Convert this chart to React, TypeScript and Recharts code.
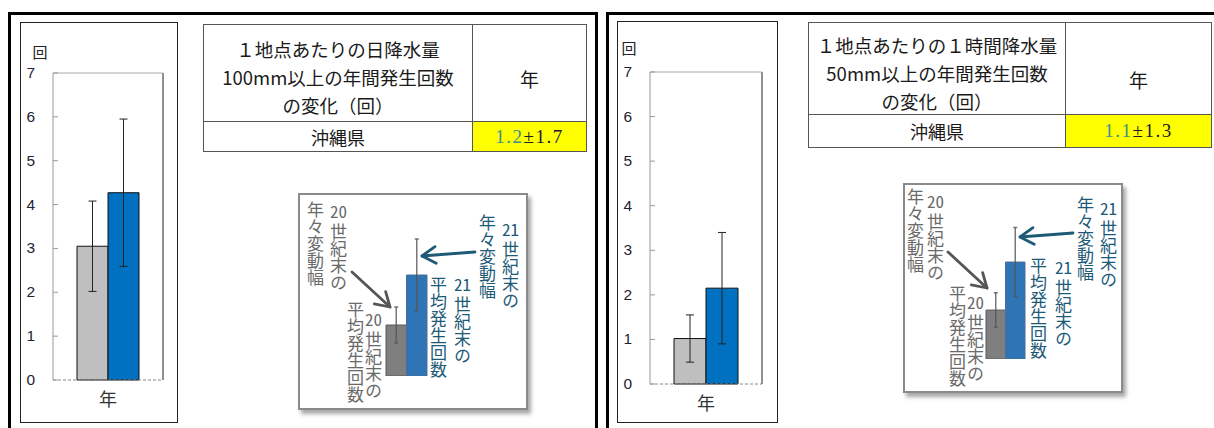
import React from 'react';
import { BarChart, Bar, XAxis, YAxis, ErrorBar, CartesianGrid, ReferenceLine } from 'recharts';

// categories / ticks
const categories = ['年'];
const yTicks = [0, 1, 2, 3, 4, 5, 6, 7];

// 日降水量100mm以上の年間発生回数 (20世紀末 / 21世紀末)
const dailyMean20 = [3.05];
const dailyErr20 = [1.03];
const dailyMean21 = [4.27];
const dailyErr21 = [1.68];

// 1時間降水量50mm以上の年間発生回数
const hourlyMean20 = [1.02];
const hourlyErr20 = [0.53];
const hourlyMean21 = [2.15];
const hourlyErr21 = [1.25];

// 凡例の模式図
const guideMean20 = [1.02];
const guideErr20 = [0.36];
const guideMean21 = [2.02];
const guideErr21 = [0.72];

const dailyTitle = ['１地点あたりの日降水量', '100mm以上の年間発生回数', 'の変化（回）'];
const hourlyTitle = ['１地点あたりの１時間降水量', '50mm以上の年間発生回数', 'の変化（回）'];
const regionName = '沖縄県';
const dailyChange = ['1.2', '±1.7'];
const hourlyChange = ['1.1', '±1.3'];
const unitLabel = '回';

const toRows = (m20: number[], e20: number[], m21: number[], e21: number[]) =>
  categories.map((name, i) => ({ name, s20: m20[i], e20: e20[i], s21: m21[i], e21: e21[i] }));

const dailyRows = toRows(dailyMean20, dailyErr20, dailyMean21, dailyErr21);
const hourlyRows = toRows(hourlyMean20, hourlyErr20, hourlyMean21, hourlyErr21);
const guideRows = toRows(guideMean20, guideErr20, guideMean21, guideErr21);

const jp = '"Noto Sans CJK JP", "Noto Sans", sans-serif';
const GRAY_TXT = '#6a6a6a';
const BLUE_TXT = '#1d5a78';

const YTick = (props: any) => {
  const { x, y, payload } = props;
  return (
    <g>
      <line x1={x + 18} x2={x + 23} y1={y} y2={y} stroke="#999" />
      <text x={x} y={y} dy={5} textAnchor="end" fontSize={15.5} fill="#1f2433" fontFamily="Liberation Sans, sans-serif">
        {payload.value}
      </text>
    </g>
  );
};

// right edge of the plot area
const rightEdge = ({ offset }: any) => [offset.left + offset.width];

function MainChart({ data, left, top, width, height, mTop, mRight, xAxisH, barSize, unitPos }: any) {
  return (
    <div style={{ position: 'absolute', left, top, width, height, background: '#fff' }}>
      <div style={{ position: 'absolute', inset: 0, border: '1px solid #222' }} />
      <div style={{ position: 'absolute', left: unitPos[0] - 9, top: unitPos[1] - 10, width: 18, textAlign: 'center', fontSize: 15, lineHeight: '20px', fontFamily: jp, color: '#222' }}>
        {unitLabel}
      </div>
      <div style={{ position: 'absolute', left: 0, top: 0 }}>
        <BarChart width={width} height={height} data={data} margin={{ top: mTop, right: mRight, bottom: 0, left: 0 }} barGap={0} barSize={barSize}>
          <CartesianGrid horizontal={false} verticalCoordinatesGenerator={rightEdge} stroke="#222" />
          <XAxis
            dataKey="name"
            height={xAxisH}
            tickLine={false}
            tickSize={0}
            tickMargin={13}
            axisLine={{ stroke: '#888', strokeDasharray: '3 2' }}
            tick={{ fontSize: 18, fill: '#333', fontFamily: jp }}
          />
          <YAxis domain={[0, 7]} ticks={yTicks} width={33} tickLine={false} tickSize={0} tickMargin={18} axisLine={{ stroke: '#999' }} tick={<YTick />} />
          <ReferenceLine y={7} stroke="#a8a8a8" />
          <Bar dataKey="s20" fill="#bfbfbf" stroke="#111" strokeWidth={1} isAnimationActive={false}>
            <ErrorBar dataKey="e20" direction="y" width={4} stroke="#222" strokeWidth={1} isAnimationActive={false} />
          </Bar>
          <Bar dataKey="s21" fill="#0070c0" stroke="#111" strokeWidth={1} isAnimationActive={false}>
            <ErrorBar dataKey="e21" direction="y" width={4} stroke="#222" strokeWidth={1} isAnimationActive={false} />
          </Bar>
        </BarChart>
      </div>
    </div>
  );
}

function InfoTable({ left, top, width, col1, headH, rowH, title, change, nenPad }: any) {
  const b = '1px solid #555';
  const center: any = { display: 'flex', alignItems: 'center', justifyContent: 'center' };
  return (
    <div
      style={{
        position: 'absolute', left, top, width, height: headH + rowH, boxSizing: 'border-box', border: b,
        display: 'grid', gridTemplateColumns: `${col1}px 1fr`, gridTemplateRows: `${headH}px 1fr`,
        fontFamily: jp, color: '#1a1a1a', background: '#fff',
      }}
    >
      <div style={{ ...center, flexDirection: 'column', borderRight: b, borderBottom: b, fontSize: 18.5, lineHeight: '28px', paddingTop: 8, whiteSpace: 'nowrap' }}>
        {title.map((l: string) => <div key={l}>{l}</div>)}
      </div>
      <div style={{ ...center, borderBottom: b, fontSize: 19, paddingTop: nenPad }}>{categories[0]}</div>
      <div style={{ ...center, borderRight: b, fontSize: 18 }}>{regionName}</div>
      <div style={{ ...center, background: '#ffff00', fontFamily: '"Liberation Serif", serif', fontSize: 19, letterSpacing: 1.5 }}>
        <span style={{ color: '#3a8e8e' }}>{change[0]}</span>
        <span style={{ color: '#1a1a2a' }}>{change[1]}</span>
      </div>
    </div>
  );
}

function GuideChart({ left, bottom, unit, barSize }: any) {
  const h = unit * 3;
  return (
    <div style={{ position: 'absolute', left, top: bottom - h }}>
      <BarChart width={60} height={h} data={guideRows} margin={{ top: 0, right: 0, bottom: 0, left: 0 }} barGap={0} barSize={barSize}>
        <XAxis dataKey="name" hide />
        <YAxis hide domain={[0, 3]} />
        <Bar dataKey="s20" fill="#7f7f7f" stroke="#5c5c5c" strokeWidth={1} isAnimationActive={false}>
          <ErrorBar dataKey="e20" direction="y" width={2} stroke="#555" strokeOpacity={0.8} strokeWidth={1.5} isAnimationActive={false} />
        </Bar>
        <Bar dataKey="s21" fill="#2f74b5" stroke="#4a6f96" strokeWidth={1} isAnimationActive={false}>
          <ErrorBar dataKey="e21" direction="y" width={2} stroke="#555" strokeOpacity={0.8} strokeWidth={1.5} isAnimationActive={false} />
        </Bar>
      </BarChart>
    </div>
  );
}

function VText({ text, cx, top, color }: any) {
  const m = text.match(/^(\d+)(.*)$/);
  return (
    <div
      style={{
        position: 'absolute', left: cx - 11, top, width: 22, writingMode: 'vertical-rl', fontSize: 17,
        lineHeight: '22px', color, fontFamily: jp, whiteSpace: 'nowrap',
      }}
    >
      {m ? (
        <>
          <span style={{ textCombineUpright: 'all', marginBottom: 4 } as any}>{m[1]}</span>
          {m[2]}
        </>
      ) : text}
    </div>
  );
}

function Arrow({ from, to, color }: any) {
  const [x1, y1] = from;
  const [x2, y2] = to;
  const a = Math.atan2(y2 - y1, x2 - x1);
  const L = 16;
  const s = 0.55;
  const p1 = [x2 - L * Math.cos(a - s), y2 - L * Math.sin(a - s)];
  const p2 = [x2 - L * Math.cos(a + s), y2 - L * Math.sin(a + s)];
  return (
    <g stroke={color} strokeWidth={2.8} fill="none" strokeLinecap="round" strokeLinejoin="round">
      <line x1={x1} y1={y1} x2={x2} y2={y2} />
      <polyline points={`${p1[0]},${p1[1]} ${x2},${y2} ${p2[0]},${p2[1]}`} />
    </g>
  );
}

const legendBox = (left: number, top: number, width: number, height: number) => (
  <div
    style={{
      position: 'absolute', left, top, width, height, boxSizing: 'border-box', border: '2px solid #8a8a8a',
      background: '#fff', boxShadow: '3px 4px 4px rgba(0,0,0,0.35)',
    }}
  />
);

export default function App() {
  return (
    <div style={{ position: 'absolute', left: 0, top: 0, width: 1214, height: 428, overflow: 'hidden', background: '#fff' }}>
      {/* outer frames */}
      <div style={{ position: 'absolute', left: 8, top: 12, width: 590, height: 440, boxSizing: 'border-box', border: '3px solid #000' }} />
      <div style={{ position: 'absolute', left: 606, top: 12, width: 640, height: 440, boxSizing: 'border-box', border: '3px solid #000' }} />

      {/* left: daily >=100mm */}
      <MainChart data={dailyRows} left={20} top={22} width={158} height={401} mTop={51} mRight={15} xAxisH={43} barSize={31} unitPos={[20, 30]} />
      <InfoTable left={203} top={24} width={384} col1={269} headH={97} rowH={31} title={dailyTitle} change={dailyChange} nenPad={10} />
      {legendBox(298, 193, 230, 217)}
      <GuideChart left={376} bottom={376} unit={50} barSize={20.5} />
      <VText text="20世紀末の" cx={338} top={202} color={GRAY_TXT} />
      <VText text="年々変動幅" cx={315} top={201} color={GRAY_TXT} />
      <VText text="20世紀末の" cx={373} top={310} color={GRAY_TXT} />
      <VText text="平均発生回数" cx={355} top={301} color={GRAY_TXT} />
      <VText text="21世紀末の" cx={462} top={275} color={BLUE_TXT} />
      <VText text="平均発生回数" cx={438} top={276} color={BLUE_TXT} />
      <VText text="21世紀末の" cx={510} top={220} color={BLUE_TXT} />
      <VText text="年々変動幅" cx={487} top={214} color={BLUE_TXT} />

      {/* right: hourly >=50mm */}
      <MainChart data={hourlyRows} left={617} top={21} width={161} height={402} mTop={51} mRight={16} xAxisH={39} barSize={32} unitPos={[12, 27]} />
      <InfoTable left={808} top={22} width={404} col1={257} headH={92} rowH={34} title={hourlyTitle} change={hourlyChange} nenPad={22} />
      {legendBox(903, 183, 220, 210)}
      <GuideChart left={975} bottom={359} unit={48} barSize={19.5} />
      <VText text="20世紀末の" cx={935} top={192} color={GRAY_TXT} />
      <VText text="年々変動幅" cx={915} top={188} color={GRAY_TXT} />
      <VText text="20世紀末の" cx={975} top={293} color={GRAY_TXT} />
      <VText text="平均発生回数" cx={957} top={285} color={GRAY_TXT} />
      <VText text="21世紀末の" cx={1063} top={258} color={BLUE_TXT} />
      <VText text="平均発生回数" cx={1038} top={257} color={BLUE_TXT} />
      <VText text="21世紀末の" cx={1108} top={199} color={BLUE_TXT} />
      <VText text="年々変動幅" cx={1085} top={196} color={BLUE_TXT} />

      <svg width={1214} height={428} style={{ position: 'absolute', left: 0, top: 0, pointerEvents: 'none' }}>
        <Arrow from={[352, 272]} to={[390, 307]} color="#555" />
        <Arrow from={[475, 252]} to={[422, 256]} color={BLUE_TXT} />
        <Arrow from={[948, 252]} to={[987, 288]} color="#555" />
        <Arrow from={[1073, 233]} to={[1020, 237]} color={BLUE_TXT} />
      </svg>
    </div>
  );
}
